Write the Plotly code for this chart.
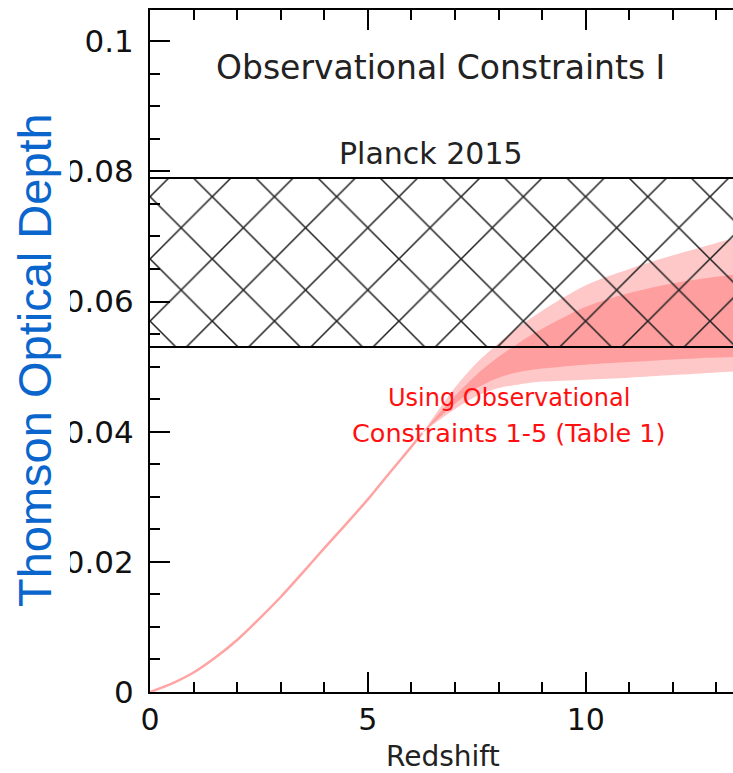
import plotly.graph_objects as go

# Thomson optical depth vs redshift (single history below z~6)
z_line = [0, 0.5, 1, 1.5, 2, 2.5, 3, 3.5, 4, 4.5, 5, 5.5, 6, 6.25]
tau_line = [0, 0.0013, 0.0030, 0.0053, 0.0080, 0.0112, 0.0146, 0.0183, 0.0221, 0.0258, 0.0296, 0.0337, 0.0377, 0.0398]

# Spread of allowed histories at higher redshift
z_band = [6.25, 6.5, 7.0, 7.5, 8.0, 8.5, 9.0, 10.0, 11.0, 12.0, 13.0, 13.5]
outer_lo = [0.0398, 0.0411, 0.0435, 0.0455, 0.0467, 0.0473, 0.0477, 0.0480, 0.0483, 0.0487, 0.0491, 0.0493]
inner_lo = [0.0398, 0.0413, 0.0443, 0.0467, 0.0483, 0.0492, 0.0497, 0.0503, 0.0507, 0.0511, 0.0514, 0.0515]
inner_hi = [0.0398, 0.0418, 0.0455, 0.0488, 0.0515, 0.0538, 0.0558, 0.0592, 0.0613, 0.0628, 0.0638, 0.0642]
outer_hi = [0.0398, 0.0422, 0.0468, 0.0506, 0.0536, 0.0563, 0.0586, 0.0625, 0.0650, 0.0671, 0.0690, 0.0699]

# Planck 2015 constraint
planck_lo = 0.053
planck_hi = 0.079

x_range = [0, 13.38]
y_range = [0, 0.1048]

fig = go.Figure()

fig.add_trace(go.Scatter(x=z_line, y=tau_line, mode="lines", line_shape="spline",
                         line=dict(color="#FFA3A3", width=2.5, smoothing=0.6), hoverinfo="skip"))

fig.add_trace(go.Scatter(x=z_band, y=outer_lo, mode="lines", line_shape="spline",
                         line=dict(color="#FFC8C8", width=0, smoothing=0.8), hoverinfo="skip"))
fig.add_trace(go.Scatter(x=z_band, y=outer_hi, mode="lines", line_shape="spline",
                         line=dict(color="#FFC8C8", width=0, smoothing=0.8), fill="tonexty",
                         fillcolor="#FFC8C8", hoverinfo="skip"))
fig.add_trace(go.Scatter(x=z_band, y=inner_lo, mode="lines", line_shape="spline",
                         line=dict(color="#FF9E9E", width=0, smoothing=0.8), hoverinfo="skip"))
fig.add_trace(go.Scatter(x=z_band, y=inner_hi, mode="lines", line_shape="spline",
                         line=dict(color="#FF9E9E", width=0, smoothing=0.8), fill="tonexty",
                         fillcolor="#FF9E9E", hoverinfo="skip"))

# Hatched Planck band with solid edges
fig.add_trace(go.Scatter(x=x_range, y=[planck_lo, planck_lo], mode="lines",
                         line=dict(color="black", width=2), hoverinfo="skip"))
fig.add_trace(go.Scatter(x=x_range, y=[planck_hi, planck_hi], mode="lines",
                         line=dict(color="black", width=2), fill="tonexty",
                         fillcolor="rgba(0,0,0,0)",
                         fillpattern=dict(shape="x", size=44, solidity=0.07,
                                          fgcolor="#222222", bgcolor="rgba(0,0,0,0)",
                                          fillmode="replace"),
                         hoverinfo="skip"))

axis_common = dict(showline=True, linewidth=2, linecolor="black", ticks="inside",
                   ticklen=20, tickwidth=2, tickcolor="black", showgrid=False,
                   zeroline=False)

fig.update_layout(
    width=733, height=773,
    margin=dict(l=150, r=0, t=10, b=81),
    plot_bgcolor="white", paper_bgcolor="white",
    showlegend=False,
    xaxis=dict(range=x_range, tick0=0, dtick=5, mirror="allticks",
               tickfont=dict(family="DejaVu Sans", size=30, color="#111111"),
               minor=dict(dtick=1, ticklen=10, tickwidth=2, tickcolor="black", ticks="inside"),
               **axis_common),
    yaxis=dict(range=y_range, tick0=0, dtick=0.02, mirror=False,
               tickfont=dict(family="DejaVu Sans", size=31, color="#111111"),
               ticklabelstandoff=8,
               minor=dict(dtick=0.005, ticklen=10, tickwidth=2, tickcolor="black", ticks="inside"),
               **axis_common),
    yaxis2=dict(range=y_range, matches="y", overlaying="y", side="right", anchor="x",
                showline=False, showticklabels=False, ticks="inside", ticklen=20,
                tickwidth=2, tickcolor="black", tick0=0, dtick=0.02, showgrid=False,
                zeroline=False,
                minor=dict(dtick=0.005, ticklen=10, tickwidth=2, tickcolor="black", ticks="inside")),
)

# Blank strip behind the vertical axis title
fig.add_shape(type="rect", xref="paper", yref="paper",
              x0=-150 / 583, x1=-80 / 583, y0=-0.2, y1=1.1,
              fillcolor="white", line=dict(width=0), layer="above")

text_font = "DejaVu Sans"
fig.add_annotation(text="Observational Constraints I", xref="paper", yref="paper",
                   x=0.499, y=0.915, showarrow=False, xanchor="center", yanchor="middle",
                   font=dict(family=text_font, size=33, color="#222222"))
fig.add_annotation(text="Planck 2015", xref="paper", yref="paper",
                   x=0.482, y=0.790, showarrow=False, xanchor="center", yanchor="middle",
                   font=dict(family=text_font, size=30, color="#222222"))
fig.add_annotation(text="Using Observational", xref="paper", yref="paper",
                   x=0.616, y=0.431, showarrow=False, xanchor="center", yanchor="middle",
                   font=dict(family=text_font, size=24, color="#FF1010"))
fig.add_annotation(text="Constraints 1-5 (Table 1)", xref="paper", yref="paper",
                   x=0.616, y=0.380, showarrow=False, xanchor="center", yanchor="middle",
                   font=dict(family=text_font, size=25.5, color="#FF1010"))
fig.add_annotation(text="Redshift", xref="paper", yref="paper",
                   x=0.502, y=-0.0953, showarrow=False, xanchor="center", yanchor="middle",
                   font=dict(family=text_font, size=28, color="#222222"))
fig.add_annotation(text="Thomson Optical Depth", xref="paper", yref="paper",
                   x=-0.197, y=0.487, showarrow=False, xanchor="center", yanchor="middle",
                   textangle=-90,
                   font=dict(family="Liberation Sans", size=47, color="#0A66CC"))

fig.write_html("out.html")
